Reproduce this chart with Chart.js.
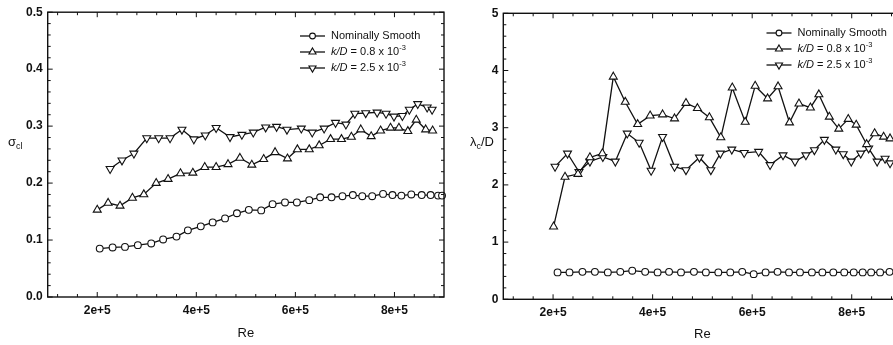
<!DOCTYPE html>
<html>
<head>
<meta charset="utf-8">
<script src="https://cdn.jsdelivr.net/npm/chart.js@4"></script>
<style>
  html, body { margin: 0; padding: 0; background: #fff; overflow: hidden; }
  body { width: 893px; height: 345px; position: relative; }
  canvas { position: absolute; top: 0; }
  #sigma { left: 0; }
  #lambda { left: 450px; }
</style>
</head>
<body>
<canvas id="sigma" width="450" height="345"></canvas>
<canvas id="lambda" width="460" height="345"></canvas>
<script>

const FONT = "'Liberation Sans', Arial, sans-serif";

const seriesNames = ["Nominally Smooth", "k/D = 0.8 x 10^-3", "k/D = 2.5 x 10^-3"];

const xTicks = [2e5, 4e5, 6e5, 8e5];
const xTickLabels = ["2e+5", "4e+5", "6e+5", "8e+5"];
const sigmaTicks = [0, 0.1, 0.2, 0.3, 0.4, 0.5];
const sigmaTickLabels = ["0.0", "0.1", "0.2", "0.3", "0.4", "0.5"];
const lambdaTicks = [0, 1, 2, 3, 4, 5];
const lambdaTickLabels = ["0", "1", "2", "3", "4", "5"];

// sigma_cl panel
const sigSmoothRe = [2.05e5, 2.31e5, 2.56e5, 2.82e5, 3.09e5, 3.33e5, 3.60e5, 3.83e5, 4.09e5, 4.33e5, 4.58e5, 4.82e5, 5.06e5, 5.31e5, 5.54e5, 5.79e5, 6.03e5, 6.28e5, 6.50e5, 6.73e5, 6.95e5, 7.16e5, 7.35e5, 7.55e5, 7.77e5, 7.96e5, 8.14e5, 8.34e5, 8.55e5, 8.73e5, 8.88e5, 8.96e5];
const sigSmooth = [0.085, 0.087, 0.088, 0.091, 0.094, 0.101, 0.106, 0.117, 0.124, 0.131, 0.138, 0.147, 0.153, 0.152, 0.163, 0.166, 0.166, 0.170, 0.175, 0.175, 0.177, 0.179, 0.177, 0.177, 0.181, 0.179, 0.178, 0.180, 0.179, 0.179, 0.178, 0.178];

const sigK08Re = [2.00e5, 2.22e5, 2.46e5, 2.71e5, 2.94e5, 3.19e5, 3.43e5, 3.68e5, 3.93e5, 4.17e5, 4.40e5, 4.64e5, 4.88e5, 5.12e5, 5.36e5, 5.59e5, 5.84e5, 6.04e5, 6.28e5, 6.48e5, 6.71e5, 6.93e5, 7.13e5, 7.32e5, 7.53e5, 7.72e5, 7.92e5, 8.09e5, 8.27e5, 8.44e5, 8.63e5, 8.77e5];
const sigK08 = [0.153, 0.165, 0.160, 0.174, 0.180, 0.200, 0.207, 0.217, 0.218, 0.228, 0.228, 0.233, 0.244, 0.232, 0.242, 0.254, 0.243, 0.259, 0.259, 0.266, 0.277, 0.277, 0.281, 0.294, 0.282, 0.292, 0.297, 0.297, 0.291, 0.311, 0.294, 0.292];

const sigK25Re = [2.26e5, 2.50e5, 2.74e5, 3.00e5, 3.24e5, 3.47e5, 3.71e5, 3.95e5, 4.18e5, 4.40e5, 4.68e5, 4.92e5, 5.15e5, 5.40e5, 5.62e5, 5.83e5, 6.12e5, 6.34e5, 6.58e5, 6.81e5, 7.02e5, 7.20e5, 7.42e5, 7.65e5, 7.83e5, 7.99e5, 8.16e5, 8.30e5, 8.47e5, 8.66e5, 8.76e5];
const sigK25 = [0.225, 0.240, 0.252, 0.279, 0.279, 0.279, 0.294, 0.277, 0.284, 0.297, 0.281, 0.285, 0.289, 0.298, 0.299, 0.294, 0.296, 0.289, 0.296, 0.306, 0.303, 0.322, 0.323, 0.324, 0.322, 0.317, 0.318, 0.329, 0.339, 0.333, 0.329];

// lambda_c/D panel
const lamSmoothRe = [2.09e5, 2.33e5, 2.59e5, 2.84e5, 3.10e5, 3.35e5, 3.59e5, 3.85e5, 4.10e5, 4.33e5, 4.57e5, 4.83e5, 5.07e5, 5.32e5, 5.56e5, 5.80e5, 6.03e5, 6.27e5, 6.51e5, 6.74e5, 6.96e5, 7.20e5, 7.41e5, 7.63e5, 7.85e5, 8.04e5, 8.22e5, 8.39e5, 8.57e5, 8.76e5];
const lamSmooth = [0.47, 0.47, 0.48, 0.48, 0.47, 0.48, 0.50, 0.48, 0.47, 0.48, 0.47, 0.48, 0.47, 0.47, 0.47, 0.48, 0.44, 0.47, 0.48, 0.47, 0.47, 0.47, 0.47, 0.47, 0.47, 0.47, 0.47, 0.47, 0.47, 0.48];

const lamK08Re = [2.01e5, 2.24e5, 2.50e5, 2.74e5, 2.99e5, 3.21e5, 3.45e5, 3.70e5, 3.95e5, 4.20e5, 4.44e5, 4.67e5, 4.90e5, 5.14e5, 5.37e5, 5.60e5, 5.86e5, 6.06e5, 6.31e5, 6.52e5, 6.75e5, 6.94e5, 7.17e5, 7.34e5, 7.55e5, 7.74e5, 7.93e5, 8.09e5, 8.30e5, 8.46e5, 8.64e5, 8.77e5];
const lamK08 = [1.27, 2.14, 2.19, 2.48, 2.55, 3.89, 3.45, 3.06, 3.21, 3.23, 3.16, 3.43, 3.34, 3.18, 2.83, 3.70, 3.10, 3.73, 3.51, 3.72, 3.09, 3.42, 3.35, 3.58, 3.19, 2.98, 3.15, 3.05, 2.71, 2.90, 2.84, 2.81];

const lamK25Re = [2.04e5, 2.29e5, 2.52e5, 2.74e5, 3.00e5, 3.25e5, 3.49e5, 3.73e5, 3.97e5, 4.20e5, 4.44e5, 4.67e5, 4.94e5, 5.17e5, 5.36e5, 5.59e5, 5.84e5, 6.13e5, 6.36e5, 6.62e5, 6.86e5, 7.08e5, 7.25e5, 7.45e5, 7.68e5, 7.83e5, 7.99e5, 8.18e5, 8.34e5, 8.51e5, 8.67e5, 8.77e5];
const lamK25 = [2.32, 2.55, 2.23, 2.41, 2.49, 2.41, 2.90, 2.74, 2.25, 2.84, 2.32, 2.26, 2.48, 2.26, 2.55, 2.62, 2.56, 2.58, 2.35, 2.52, 2.41, 2.52, 2.61, 2.79, 2.62, 2.54, 2.41, 2.55, 2.64, 2.41, 2.46, 2.38];


const markers = [
  {pointStyle: "circle", radius: 3.4, rotation: 0},
  {pointStyle: "triangle", radius: 4.6, rotation: 0},
  {pointStyle: "triangle", radius: 4.6, rotation: 180}
];

function pairs(xs, ys){
  return xs.map((x, i) => ({x: x, y: ys[i]}));
}

function dataset(i, xs, ys){
  return {
    label: seriesNames[i],
    data: pairs(xs, ys),
    showLine: true,
    borderColor: "#111",
    borderWidth: 1.3,
    pointStyle: markers[i].pointStyle,
    pointRotation: markers[i].rotation,
    pointRadius: markers[i].radius,
    pointBackgroundColor: "#fff",
    pointBorderColor: "#111",
    pointBorderWidth: 1.1,
    clip: false
  };
}

function drawRich(ctx, parts, x, y, size){
  ctx.textBaseline = "middle";
  ctx.textAlign = "left";
  for (const [t, k] of parts){
    const small = (k === "sup" || k === "sub");
    const fs = small ? size * 0.68 : size;
    ctx.font = (k === "i" ? "italic " : "") + fs + "px " + FONT;
    const dy = k === "sup" ? -size * 0.38 : k === "sub" ? size * 0.32 : 0;
    ctx.fillText(t, x, y + dy);
    x += ctx.measureText(t).width;
  }
}

function richLabel(s){
  const parts = [];
  let [main, sup] = s.split("^");
  if (main.startsWith("k/D")){
    parts.push(["k/D", "i"]);
    main = main.slice(3);
  }
  parts.push([main, "n"]);
  if (sup) parts.push([sup, "sup"]);
  return parts;
}

// frame, inward ticks on all sides, legend and horizontal y title
const boxPlugin = {
  id: "box",
  afterDraw(chart, args, o){
    const {ctx, chartArea: a, scales} = chart;
    const x = scales.x, y = scales.y;
    ctx.save();
    ctx.strokeStyle = "#111";
    ctx.fillStyle = "#111";
    ctx.lineWidth = 1.4;
    ctx.strokeRect(a.left, a.top, a.right - a.left, a.bottom - a.top);

    ctx.lineWidth = 1;
    ctx.beginPath();
    const eachTick = (scale, minor, major, fn) => {
      const start = Math.ceil(scale.min / minor - 1e-6);
      const end = Math.floor(scale.max / minor + 1e-6);
      for (let n = start; n <= end; n++){
        const v = n * minor;
        const r = v / major;
        const isMajor = Math.abs(r - Math.round(r)) < 1e-6;
        fn(scale.getPixelForValue(v), isMajor ? 5 : 3);
      }
    };
    eachTick(x, o.xMinor, o.xMajor, (px, len) => {
      ctx.moveTo(px, a.bottom); ctx.lineTo(px, a.bottom - len);
      ctx.moveTo(px, a.top); ctx.lineTo(px, a.top + len);
    });
    eachTick(y, o.yMinor, o.yMajor, (py, len) => {
      ctx.moveTo(a.left, py); ctx.lineTo(a.left + len, py);
      ctx.moveTo(a.right, py); ctx.lineTo(a.right - len, py);
    });
    ctx.stroke();

    // legend
    chart.data.datasets.forEach((ds, i) => {
      const ly = o.legendY + i * 16;
      const lx = o.legendX;
      ctx.strokeStyle = "#111";
      ctx.lineWidth = 1.3;
      ctx.beginPath();
      ctx.moveTo(lx, ly); ctx.lineTo(lx + 25, ly);
      ctx.stroke();
      ctx.fillStyle = "#fff";
      ctx.lineWidth = 1.1;
      Chart.helpers.drawPoint(ctx, {
        pointStyle: markers[i].pointStyle,
        rotation: markers[i].rotation,
        radius: markers[i].radius - 0.5,
        borderWidth: 1
      }, lx + 12.5, ly);
      ctx.fillStyle = "#111";
      drawRich(ctx, richLabel(ds.label), lx + 31, ly, 11);
    });

    // y title, horizontal
    ctx.fillStyle = "#111";
    drawRich(ctx, o.yTitle, o.yTitleX, o.yTitleY, 13);
    ctx.restore();
  }
};

function makeChart(id, sets, cfg){
  return new Chart(document.getElementById(id), {
    type: "scatter",
    data: {datasets: sets},
    plugins: [boxPlugin],
    options: {
      responsive: false,
      animation: false,
      events: [],
      layout: {padding: {top: cfg.top, right: cfg.right, left: 0, bottom: 0}},
      plugins: {
        legend: {display: false},
        tooltip: {enabled: false},
        box: cfg.box
      },
      scales: {
        x: {
          type: "linear",
          min: 1e5,
          max: 9e5,
          afterBuildTicks: s => { s.ticks = xTicks.map(v => ({value: v})); },
          afterFit: s => { s.height = cfg.xHeight; },
          grid: {display: false, drawTicks: false},
          border: {display: false},
          ticks: {
            autoSkip: false,
            maxRotation: 0,
            padding: 6,
            color: "#111",
            font: {family: FONT, size: 12, weight: "bold"},
            callback: (v, i) => xTickLabels[i]
          },
          title: {
            display: true,
            text: "Re",
            color: "#111",
            font: {family: FONT, size: 13},
            padding: {top: 0, bottom: cfg.titlePad}
          }
        },
        y: {
          min: cfg.yTicks[0],
          max: cfg.yTicks[cfg.yTicks.length - 1],
          afterBuildTicks: s => { s.ticks = cfg.yTicks.map(v => ({value: v})); },
          afterFit: s => { s.width = cfg.yWidth; },
          grid: {display: false, drawTicks: false},
          border: {display: false},
          ticks: {
            padding: 5,
            color: "#111",
            font: {family: FONT, size: 12, weight: "bold"},
            callback: (v, i) => cfg.yLabels[i]
          }
        }
      }
    }
  });
}

makeChart("sigma", [
  dataset(0, sigSmoothRe, sigSmooth),
  dataset(1, sigK08Re, sigK08),
  dataset(2, sigK25Re, sigK25)
], {
  top: 10.7, right: 6, xHeight: 48, yWidth: 47.7, titlePad: 4,
  yTicks: sigmaTicks, yLabels: sigmaTickLabels,
  box: {
    xMinor: 0.4e5, xMajor: 2e5, yMinor: 0.02, yMajor: 0.1,
    legendX: 300, legendY: 36,
    yTitle: [["σ", "n"], ["cl", "sub"]], yTitleX: 8, yTitleY: 142
  }
});

makeChart("lambda", [
  dataset(0, lamSmoothRe, lamSmooth),
  dataset(1, lamK08Re, lamK08),
  dataset(2, lamK25Re, lamK25)
], {
  top: 13.3, right: 8.5, xHeight: 45.7, yWidth: 53.3, titlePad: 3,
  yTicks: lambdaTicks, yLabels: lambdaTickLabels,
  box: {
    xMinor: 0.4e5, xMajor: 2e5, yMinor: 0.2, yMajor: 1,
    legendX: 316.5, legendY: 33,
    yTitle: [["λ", "n"], ["c", "sub"], ["/D", "n"]], yTitleX: 20, yTitleY: 142
  }
});

</script>
</body>
</html>
